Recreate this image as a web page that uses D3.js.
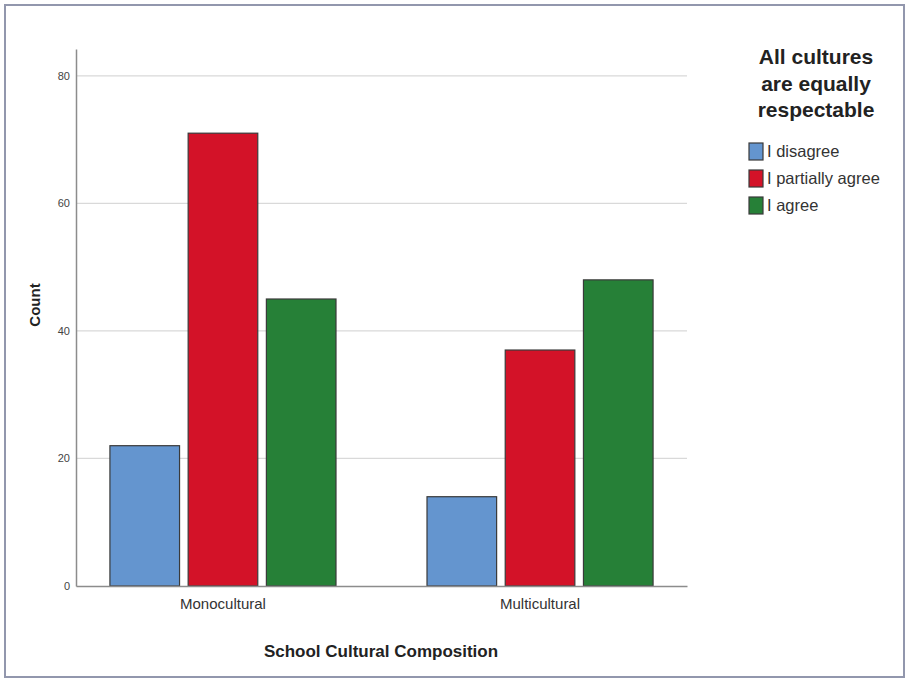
<!DOCTYPE html>
<html><head><meta charset="utf-8">
<script src="https://cdn.jsdelivr.net/npm/d3@7"></script>
<style>
body{margin:0;background:#fff;}
svg{display:block;}
</style></head>
<body><svg id="c" width="908" height="681"></svg>
<script>
const categories = ["Monocultural", "Multicultural"];
const seriesNames = ["I disagree", "I partially agree", "I agree"];
const disagree = [22, 14];
const partiallyAgree = [71, 37];
const agree = [45, 48];
const yTicks = [0, 20, 40, 60, 80];
const colors = ["#6495cf", "#d31228", "#268037"];
const legendTitle = ["All cultures", "are equally", "respectable"];

(function () {
const seriesValues = [disagree, partiallyAgree, agree];
const data = [];
categories.forEach((c, i) => seriesNames.forEach((s, j) => data.push({cat: c, ser: s, val: seriesValues[j][i], col: colors[j]})));

const svg = d3.select("#c");
const narrow = "'Liberation Sans Narrow','Arial Narrow','Liberation Sans',Arial,sans-serif";
const bold = "'Liberation Sans',Arial,sans-serif";

svg.append("rect").attr("x", 5).attr("y", 5).attr("width", 899).attr("height", 672)
  .attr("fill", "#fff").attr("stroke", "#9297ad").attr("stroke-width", 2);

const mLeft = 76, mRight = 687, mBottom = 586, mTop = 49;
const y = d3.scaleLinear().domain([0, 84.2]).range([mBottom, mTop]);
const x = d3.scaleBand().domain(categories).range([mLeft, mRight]).paddingInner(0.287).paddingOuter(0.107);
const xs = d3.scaleBand().domain(seriesNames).range([0, x.bandwidth()]).paddingInner(0.11).paddingOuter(0);

svg.append("g").selectAll("line").data(yTicks.filter(d => d > 0)).join("line")
  .attr("x1", mLeft).attr("x2", mRight).attr("y1", d => y(d)).attr("y2", d => y(d))
  .attr("stroke", "#d9d9d9").attr("stroke-width", 1.2);

svg.append("g").selectAll("rect").data(data).join("rect")
  .attr("x", d => x(d.cat) + xs(d.ser))
  .attr("width", xs.bandwidth())
  .attr("y", d => y(d.val))
  .attr("height", d => y(0) - y(d.val))
  .attr("fill", d => d.col)
  .attr("stroke", "#3a3a3a").attr("stroke-width", 1.2);

const yAxis = svg.append("g").attr("transform", `translate(${mLeft},0)`)
  .call(d3.axisLeft(y).tickValues(yTicks).tickSize(0).tickPadding(6));
yAxis.select(".domain").attr("stroke", "#8c8c8c").attr("stroke-width", 1.5);
yAxis.selectAll("text").attr("font-family", narrow).attr("font-size", 11).attr("fill", "#444");

const xAxis = svg.append("g").attr("transform", `translate(0,${mBottom})`)
  .call(d3.axisBottom(x).tickSize(0).tickPadding(12));
xAxis.select(".domain").attr("stroke", "#8c8c8c").attr("stroke-width", 1.5);
xAxis.selectAll("text").attr("font-family", narrow).attr("font-size", 15).attr("fill", "#333");

svg.append("text").attr("transform", "translate(40,305) rotate(-90)")
  .attr("text-anchor", "middle").attr("font-family", bold).attr("font-weight", "bold")
  .attr("font-size", 15).attr("fill", "#222").text("Count");
svg.append("text").attr("x", 381).attr("y", 657).attr("text-anchor", "middle")
  .attr("font-family", narrow).attr("font-weight", "bold").attr("font-size", 17)
  .attr("fill", "#222").text("School Cultural Composition");

const lg = svg.append("g");
lg.selectAll("text.t").data(legendTitle).join("text").attr("class", "t")
  .attr("x", 816).attr("y", (d, i) => 64 + i * 26.5).attr("text-anchor", "middle")
  .attr("font-family", narrow).attr("font-weight", "bold").attr("font-size", 21).attr("fill", "#222")
  .text(d => d);
const items = lg.selectAll("g.i").data(seriesNames).join("g").attr("class", "i")
  .attr("transform", (d, i) => `translate(749,${143 + i * 27})`);
items.append("rect").attr("width", 14).attr("height", 17)
  .attr("fill", (d, i) => colors[i]).attr("stroke", "#3a3a3a").attr("stroke-width", 1.2);
items.append("text").attr("x", 18).attr("y", 14).attr("font-family", narrow)
  .attr("font-size", 16.5).attr("fill", "#333").text(d => d);
})();
</script></body></html>
